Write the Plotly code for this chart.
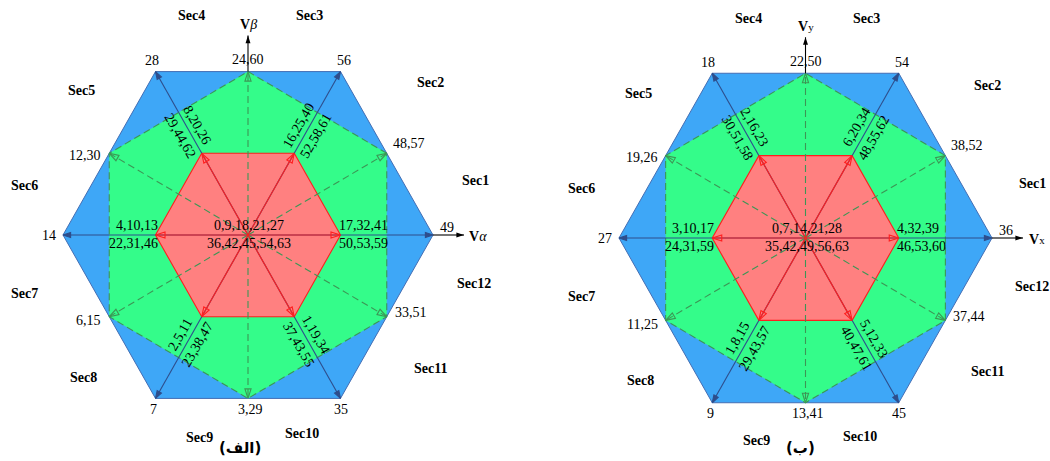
import math
import plotly.graph_objects as go

# ---------------- data (labels) ----------------
OUTER_ANGLES = [0, 60, 120, 180, 240, 300]
GREEN_ANGLES = [30, 90, 150, 210, 270, 330]

A_OUTER = ["49", "56", "28", "14", "7", "35"]
A_GREEN = ["48,57", "24,60", "12,30", "6,15", "3,29", "33,51"]
A_RED_UP = ["17,32,41", "16,25,40", "8,20,26", "4,10,13", "2,5,11", "1,19,34"]
A_RED_DN = ["50,53,59", "52,58,61", "29,44,62", "22,31,46", "23,38,47", "37,43,55"]
A_ZERO = ["0,9,18,21,27", "36,42,45,54,63"]
A_AXES = ["<b>V</b><i>α</i>", "<b>V</b><i>β</i>"]
A_TITLE = "(الف)"

B_OUTER = ["36", "54", "18", "27", "9", "45"]
B_GREEN = ["38,52", "22,50", "19,26", "11,25", "13,41", "37,44"]
B_RED_UP = ["4,32,39", "6,20,34", "2,16,23", "3,10,17", "1,8,15", "5,12,33"]
B_RED_DN = ["46,53,60", "48,55,62", "30,51,58", "24,31,59", "29,43,57", "40,47,61"]
B_ZERO = ["0,7,14,21,28", "35,42,49,56,63"]
B_AXES = ["<b>V</b><span style='font-size:11px'>x</span>", "<b>V</b><span style='font-size:11px'>y</span>"]
B_TITLE = "(ب)"

SECTORS = ["Sec1", "Sec2", "Sec3", "Sec4", "Sec5", "Sec6",
           "Sec7", "Sec8", "Sec9", "Sec10", "Sec11", "Sec12"]

# ---------------- layout / style ----------------
W, H = 1050, 461
SY = 1.02
FONT = "Liberation Serif"
BLUE_FILL = "rgb(62,167,247)"
BLUE_LINE = "rgb(68,110,180)"
BLUE_ARROW = "rgb(46,78,140)"
GREEN_FILL = "rgb(52,252,138)"
GREEN_LINE = "rgb(60,150,85)"
RED_FILL = "rgb(255,128,128)"
RED_LINE = "rgb(255,30,30)"

PANELS = [
    dict(cx=248.0, cy=235.0, R=185.0, outer=A_OUTER, green=A_GREEN, up=A_RED_UP,
         dn=A_RED_DN, zero=A_ZERO, axes=A_AXES, title=A_TITLE, tdx=-8),
    dict(cx=805.5, cy=238.0, R=186.5, outer=B_OUTER, green=B_GREEN, up=B_RED_UP,
         dn=B_RED_DN, zero=B_ZERO, axes=B_AXES, title=B_TITLE, tdx=-5),
]

# label offsets (pixels) for outer/green vertex labels: (dx, dy, xanchor)
OUTER_OFF = [(5, -8, "left"), (3, -11, "center"), (-4, -11, "center"),
             (-5, 0, "right"), (-2, 11, "center"), (0, 11, "center")]
GREEN_OFF = [(4, -10, "left"), (0, -12, "center"), (-6, 2, "right"),
             (-6, 4, "right"), (2, 11, "center"), (6, -4, "left")]
SEC_OFF = [(227, -55), (182, -153), (61, -220), (-57, -220), (-167, -145), (-224, -50),
           (-224, 58), (-165, 142), (-49, 202), (54, 198), (182, 133), (226, 48)]


def pt(p, ang, f):
    a = math.radians(ang)
    return p["cx"] + f * p["R"] * math.cos(a), p["cy"] - f * p["R"] * SY * math.sin(a)


fig = go.Figure()
annotations = []


def ann(x, y, text, size=14, bold=False, angle=0, xanchor="center", family=FONT):
    annotations.append(dict(
        x=x, y=y, xref="x", yref="y", text=("<b>%s</b>" % text) if bold else text,
        showarrow=False, textangle=angle, xanchor=xanchor, yanchor="middle",
        font=dict(family=family, size=size, color="black")))


def poly(p, angles, f, fill, line, dash=None, width=1.0):
    xs, ys = [], []
    for a in angles + angles[:1]:
        x, y = pt(p, a, f)
        xs.append(x)
        ys.append(y)
    fig.add_trace(go.Scatter(x=xs, y=ys, mode="lines", fill="toself", fillcolor=fill,
                             line=dict(color=line, width=width, dash=dash),
                             hoverinfo="skip", showlegend=False))


def arrows(p, angles, f, color, width, dash, symbol, size):
    xs, ys, tx, ty, tang = [], [], [], [], []
    for a in angles:
        x, y = pt(p, a, f)
        xs += [p["cx"], x, None]
        ys += [p["cy"], y, None]
        tx.append(x)
        ty.append(y)
        tang.append(90 - a)
    fig.add_trace(go.Scatter(x=xs, y=ys, mode="lines",
                             line=dict(color=color, width=width, dash=dash),
                             hoverinfo="skip", showlegend=False))
    fig.add_trace(go.Scatter(x=tx, y=ty, mode="markers",
                             marker=dict(symbol=symbol, size=size, angle=tang, color=color,
                                         line=dict(color=color, width=1.1)),
                             hoverinfo="skip", showlegend=False))


for p in PANELS:
    poly(p, OUTER_ANGLES, 1.0, BLUE_FILL, BLUE_LINE, width=1.0)
    poly(p, GREEN_ANGLES, math.cos(math.radians(30)), GREEN_FILL, GREEN_LINE, dash="7px,4px", width=1.1)
    poly(p, OUTER_ANGLES, 0.5, RED_FILL, RED_LINE, width=1.1)
    arrows(p, OUTER_ANGLES, 1.0, BLUE_ARROW, 1.1, None, "arrow", 8)
    arrows(p, GREEN_ANGLES, math.cos(math.radians(30)), GREEN_LINE, 1.1, "7px,4px", "arrow-open", 10)
    arrows(p, OUTER_ANGLES, 0.5, RED_LINE, 1.2, None, "arrow-open", 10)

    # coordinate axes (only the parts outside the hexagon)
    x0, y0 = pt(p, 0, 1.0)
    x1, y1 = pt(p, 90, math.cos(math.radians(30)))
    fig.add_trace(go.Scatter(x=[x0, x0 + 31, None, x1, x1], y=[y0, y0, None, y1, y1 - 36],
                             mode="lines", line=dict(color="black", width=1.1),
                             hoverinfo="skip", showlegend=False))
    fig.add_trace(go.Scatter(x=[x0 + 31, x1], y=[y0, y1 - 36], mode="markers",
                             marker=dict(symbol="arrow", size=8, angle=[90, 0], color="black"),
                             hoverinfo="skip", showlegend=False))
    ann(x0 + 45, y0 + 1, p["axes"][0], size=14)
    ann(x1, y1 - 47, p["axes"][1], size=14)

    # outer vertex labels
    for a, lab, (dx, dy, xa) in zip(OUTER_ANGLES, p["outer"], OUTER_OFF):
        x, y = pt(p, a, 1.0)
        ann(x + dx, y + dy, lab, xanchor=xa)
    # green vertex labels
    for a, lab, (dx, dy, xa) in zip(GREEN_ANGLES, p["green"], GREEN_OFF):
        x, y = pt(p, a, math.cos(math.radians(30)))
        ann(x + dx, y + dy, lab, xanchor=xa)
    # red vertex labels
    for a, up, dn in zip(OUTER_ANGLES, p["up"], p["dn"]):
        if a in (0, 180):
            x, y = pt(p, a, 0.5)
            if a == 0:
                ann(x - 4, y - 10, up, xanchor="left")
                ann(x - 4, y + 8, dn, xanchor="left")
            else:
                ann(x + 4, y - 10, up, xanchor="right")
                ann(x + 4, y + 8, dn, xanchor="right")
        else:
            mx, my = pt(p, a, 0.64)
            r = math.radians(a)
            if math.cos(r) > 0:
                nx, ny = -math.sin(r), -math.cos(r)
            else:
                nx, ny = math.sin(r), math.cos(r)
            ang = -60 if a in (60, 240) else 60
            ann(mx + 10 * nx, my + 10 * ny, up, angle=ang)
            ann(mx - 10 * nx, my - 10 * ny, dn, angle=ang)
    # zero vectors
    ann(p["cx"] + 1, p["cy"] - 10, p["zero"][0])
    ann(p["cx"] + 1, p["cy"] + 8, p["zero"][1])
    # sectors
    for lab, (dx, dy) in zip(SECTORS, SEC_OFF):
        ann(p["cx"] + dx, p["cy"] + dy, lab, bold=True)
    # panel title
    ann(p["cx"] + p["tdx"], 448, p["title"], size=15, bold=True, family="DejaVu Sans")

fig.update_layout(
    width=W, height=H, margin=dict(l=0, r=0, t=0, b=0),
    paper_bgcolor="white", plot_bgcolor="white",
    xaxis=dict(range=[0, W], visible=False, fixedrange=True),
    yaxis=dict(range=[H, 0], visible=False, fixedrange=True),
    annotations=annotations, showlegend=False,
)
fig.write_html("out.html", config={"displayModeBar": False},
               post_script="document.body.style.margin='0';document.body.style.overflow='hidden';")
